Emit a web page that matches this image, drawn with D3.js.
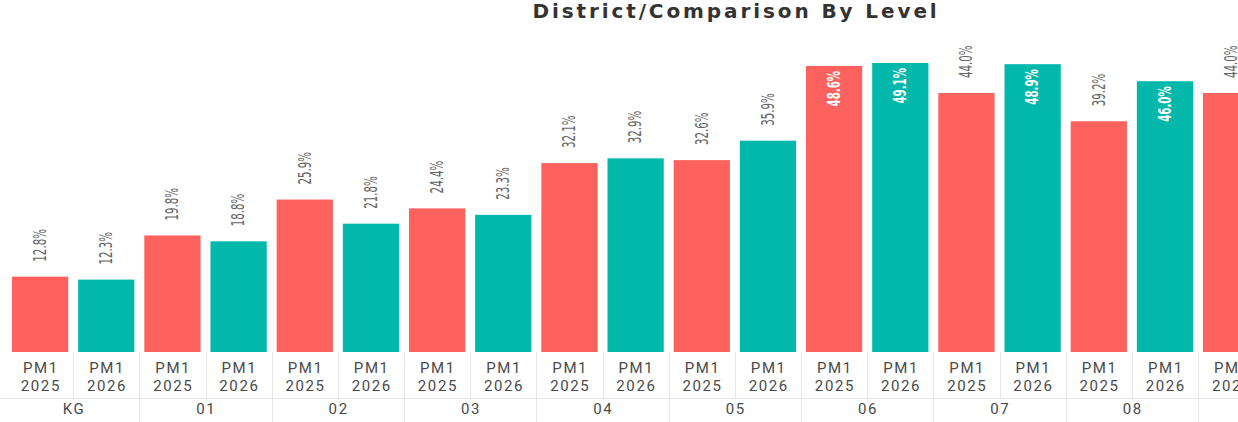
<!DOCTYPE html>
<html>
<head>
<meta charset="utf-8">
<script src="https://cdn.jsdelivr.net/npm/d3@7"></script>
<style>
  body { margin: 0; background: #fff; overflow: hidden; }
  svg { display: block; }
</style>
</head>
<body>
<svg width="1238" height="422"></svg>
<script>
var data = [
    {level: "KG", pm: "PM1", year: "2025", value: 12.8},
    {level: "KG", pm: "PM1", year: "2026", value: 12.3},
    {level: "01", pm: "PM1", year: "2025", value: 19.8},
    {level: "01", pm: "PM1", year: "2026", value: 18.8},
    {level: "02", pm: "PM1", year: "2025", value: 25.9},
    {level: "02", pm: "PM1", year: "2026", value: 21.8},
    {level: "03", pm: "PM1", year: "2025", value: 24.4},
    {level: "03", pm: "PM1", year: "2026", value: 23.3},
    {level: "04", pm: "PM1", year: "2025", value: 32.1},
    {level: "04", pm: "PM1", year: "2026", value: 32.9},
    {level: "05", pm: "PM1", year: "2025", value: 32.6},
    {level: "05", pm: "PM1", year: "2026", value: 35.9},
    {level: "06", pm: "PM1", year: "2025", value: 48.6},
    {level: "06", pm: "PM1", year: "2026", value: 49.1},
    {level: "07", pm: "PM1", year: "2025", value: 44.0},
    {level: "07", pm: "PM1", year: "2026", value: 48.9},
    {level: "08", pm: "PM1", year: "2025", value: 39.2},
    {level: "08", pm: "PM1", year: "2026", value: 46.0},
    {level: "09", pm: "PM1", year: "2025", value: 44.0}
];
data.forEach(function(d, i) { d.key = d.level + "|" + d.year; d.i = i; });

var colors = {"2025": "#FD625E", "2026": "#01B8AA"};
var svg = d3.select("svg");
var step = 66.17, left = 7;
var baseY = 352, rowY = 398, bottomY = 422;

var x = d3.scaleBand()
        .domain(data.map(function(d) { return d.key; }))
        .range([left, left + step * data.length])
        .paddingInner(0.15)
        .paddingOuter(0.075);

var y = d3.scaleLinear().domain([0, 50]).range([baseY, 57.7]);

// title
svg.append("text")
    .attr("x", 736)
    .attr("y", 18)
    .attr("text-anchor", "middle")
    .style("font-family", "DejaVu Sans, sans-serif")
    .style("font-weight", "bold")
    .style("font-size", "20px")
    .style("letter-spacing", "2.9px")
    .style("fill", "#333333")
    .text("District/Comparison By Level");

// bars
svg.selectAll(".bar")
    .data(data)
    .enter()
    .append("rect")
    .attr("class", "bar")
    .attr("x", function(d) { return x(d.key); })
    .attr("y", function(d) { return y(d.value); })
    .attr("width", x.bandwidth())
    .attr("height", function(d) { return baseY - y(d.value); })
    .style("fill", function(d) { return colors[d.year]; });

// value labels, rotated (squeezed to look condensed)
var inside = function(d) { return y(d.value) - 50 < 40; };
svg.selectAll(".lbl")
    .data(data)
    .enter()
    .append("text")
    .attr("class", "lbl")
    .attr("transform", function(d) {
        var cx = x(d.key) + x.bandwidth() / 2;
        var cy = inside(d) ? y(d.value) + 5 : y(d.value) - 15;
        return "translate(" + cx + "," + cy + ") rotate(-90) scale(0.76,1.12)";
    })
    .attr("text-anchor", function(d) { return inside(d) ? "end" : "start"; })
    .attr("dominant-baseline", "central")
    .style("font-family", "'Liberation Sans Narrow', 'DejaVu Sans Condensed', 'DejaVu Sans', sans-serif")
    .style("font-size", "15px")
    .style("font-weight", function(d) { return inside(d) ? "bold" : "normal"; })
    .style("fill", function(d) { return inside(d) ? "#ffffff" : "#666666"; })
    .text(function(d) { return d.value.toFixed(1) + "%"; });

// axis grid
var grid = svg.append("g").style("stroke", "#e6e6e6").style("stroke-width", 1);
grid.append("line")
    .attr("x1", 0).attr("x2", 1238)
    .attr("y1", rowY + 0.5).attr("y2", rowY + 0.5);

var edges = d3.range(data.length + 1).map(function(i) { return left + step * i; });
grid.selectAll(".sep")
    .data(edges.slice(1))
    .enter()
    .append("line")
    .attr("x1", function(d) { return Math.round(d) + 0.5; })
    .attr("x2", function(d) { return Math.round(d) + 0.5; })
    .attr("y1", baseY)
    .attr("y2", function(d, i) { return (i % 2 === 1) ? bottomY : rowY; });

// axis labels
var axisFont = "Roboto, 'Open Sans', sans-serif";
var ticks = svg.selectAll(".tick")
        .data(data)
        .enter()
        .append("text")
        .attr("class", "tick")
        .attr("text-anchor", "middle")
        .style("font-family", axisFont)
        .style("font-size", "15px")
        .style("letter-spacing", "1.6px")
        .style("fill", "#4a4a4a");
ticks.append("tspan")
    .attr("x", function(d) { return x(d.key) + x.bandwidth() / 2 + 0.8; })
    .attr("y", 373)
    .text(function(d) { return d.pm; });
ticks.append("tspan")
    .attr("x", function(d) { return x(d.key) + x.bandwidth() / 2 + 0.8; })
    .attr("y", 391)
    .text(function(d) { return d.year; });

var levels = Array.from(d3.group(data, function(d) { return d.level; }).keys());
svg.selectAll(".grp")
    .data(levels)
    .enter()
    .append("text")
    .attr("class", "grp")
    .attr("x", function(d, i) { return left + step * (2 * i + 1) + 0.8; })
    .attr("y", 414)
    .attr("text-anchor", "middle")
    .style("font-family", axisFont)
    .style("font-size", "15px")
    .style("letter-spacing", "1.6px")
    .style("fill", "#4a4a4a")
    .text(function(d) { return d; });
</script>
</body>
</html>
